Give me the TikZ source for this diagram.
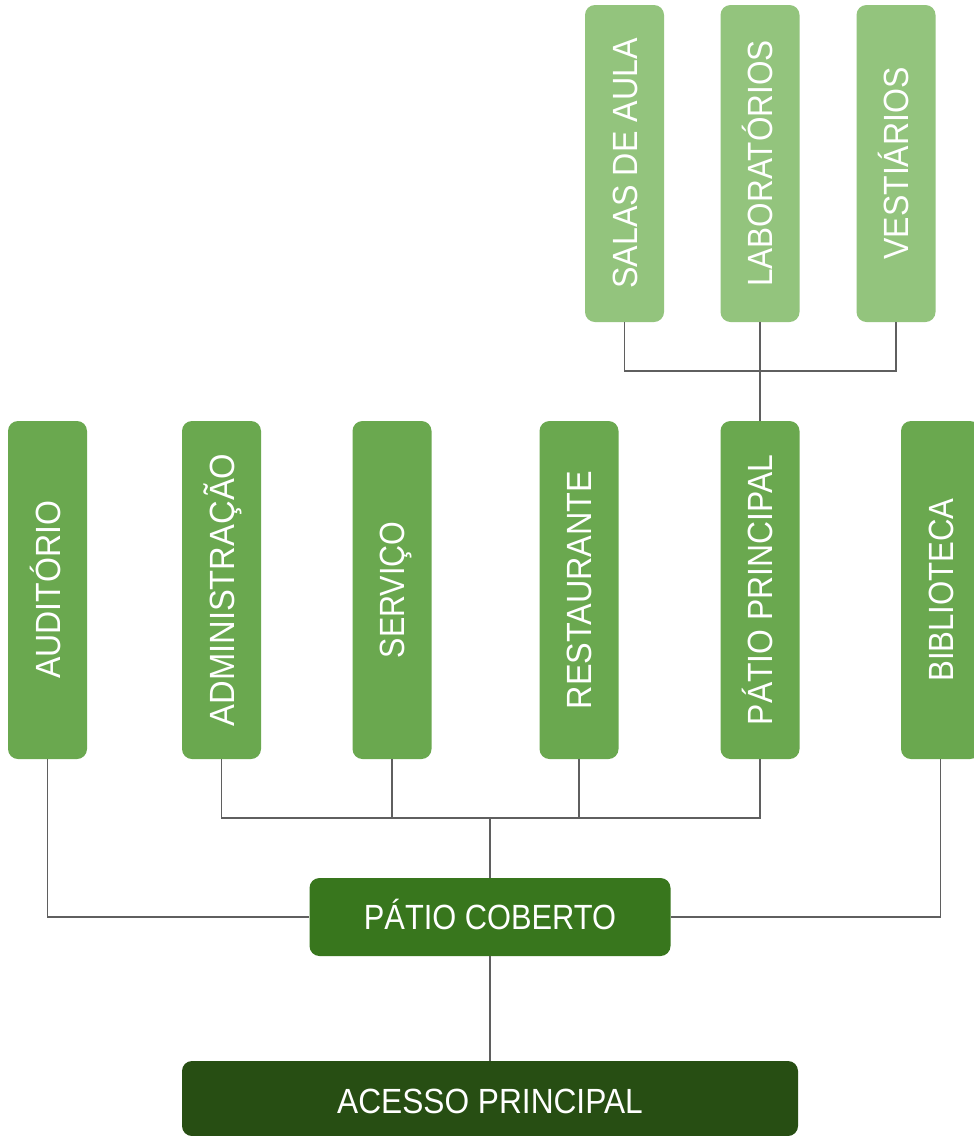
\documentclass[tikz,border=0pt]{standalone}
\usepackage{fontspec}
\setmainfont{Liberation Sans}
\usepackage{graphicx}
\definecolor{cTop}{HTML}{93C47D}
\definecolor{cMid}{HTML}{6AA84F}
\definecolor{cPC}{HTML}{38761D}
\definecolor{cAP}{HTML}{274E13}
\definecolor{cLine}{HTML}{5F5F5F}
\newcommand{\sx}[2]{\scalebox{#1}[1]{#2}}
\tikzset{
  box/.style={draw=none, rounded corners=10pt, inner sep=0pt},
  vbox/.style={box, minimum width=79pt},
  toprow/.style={vbox, fill=cTop, minimum height=317pt},
  midrow/.style={vbox, fill=cMid, minimum height=338pt},
  lbl/.style={text=white, inner sep=0pt, text height=25pt, text depth=0pt, font=\fontsize{35}{40}\selectfont},
  vlbl/.style={lbl, rotate=90},
  conn/.style={draw=cLine, line width=1.5pt}
}
\begin{document}
\begin{tikzpicture}[x=1pt,y=-1pt]
\useasboundingbox (0,0) rectangle (974,1136);
\clip (0,0) rectangle (974,1136);
\fill[white] (0,0) rectangle (974,1136);
% top row
\node[toprow] (salas) at (624.5,163.5) {};
\node[toprow] (lab) at (760,163.5) {};
\node[toprow] (vest) at (896,163.5) {};
\node[vlbl] (salasT) at (salas.center) {\sx{0.92}{SALAS DE AULA}};
\node[vlbl] (labT) at (lab.center) {\sx{0.90}{LABORATÓRIOS}};
\node[vlbl] (vestT) at (vest.center) {\sx{0.915}{VESTIÁRIOS}};
% middle row
\node[midrow] (aud) at (47.5,590) {};
\node[midrow] (adm) at (221.5,590) {};
\node[midrow] (serv) at (392,590) {};
\node[midrow] (rest) at (579,590) {};
\node[midrow] (pp) at (760,590) {};
\node[midrow] (bib) at (940.5,590) {};
\node[vlbl] (audT) at (aud.center) {\sx{0.915}{AUDITÓRIO}};
\node[vlbl] (admT) at (adm.center) {\sx{0.935}{ADMINISTRAÇÃO}};
\node[vlbl] (servT) at (serv.center) {\sx{0.87}{SERVIÇO}};
\node[vlbl] (restT) at (rest.center) {\sx{0.925}{RESTAURANTE}};
\node[vlbl] (ppT) at (pp.center) {\sx{0.91}{PÁTIO PRINCIPAL}};
\node[vlbl] (bibT) at (bib.center) {\sx{0.89}{BIBLIOTECA}};
% bottom
\node[box, fill=cPC, minimum width=361pt, minimum height=78pt] (pc) at (490,917) {};
\node[lbl] (pcT) at (pc.center) {\sx{0.88}{PÁTIO COBERTO}};
\node[box, fill=cAP, minimum width=616pt, minimum height=75pt] (ap) at (490,1098.5) {};
\node[lbl] (apT) at (490,1100.5) {\sx{0.905}{ACESSO PRINCIPAL}};
% connectors
\coordinate (j1) at (760,371);
\coordinate (j2) at (490,818);
\draw[conn] (salas.south) |- (j1) -| (vest.south);
\draw[conn] (lab.south) -- (pp.north);
\draw[conn] (adm.south) |- (j2) -| (pp.south);
\draw[conn] (serv.south) -- (serv.south |- j2);
\draw[conn] (rest.south) -- (rest.south |- j2);
\draw[conn] (j2) -- (pc.north);
\draw[conn] (aud.south) |- (pc.west);
\draw[conn] (bib.south) |- (pc.east);
\draw[conn] (pc.south) -- (ap.north);
\end{tikzpicture}
\end{document}
